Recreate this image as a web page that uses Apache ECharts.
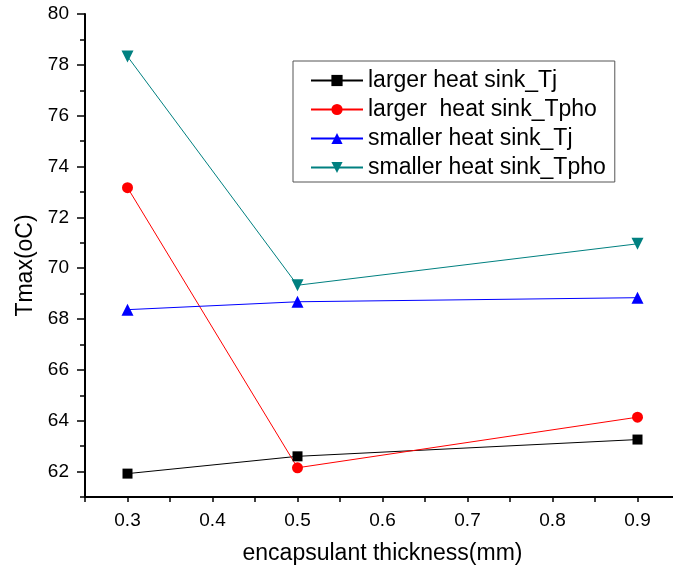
<!DOCTYPE html>
<html><head><meta charset="utf-8">
<script src="https://cdn.jsdelivr.net/npm/echarts@6/dist/echarts.min.js"></script>
<style>html,body{margin:0;padding:0;background:#fff}#c{width:673px;height:575px}</style>
</head><body><div id="c"></div>
<script>
const thickness = [0.3, 0.5, 0.9];
const largerTj = [61.92, 62.6, 63.26];
const largerTpho = [73.17, 62.15, 64.14];
const smallerTj = [68.37, 68.68, 68.84];
const smallerTpho = [78.33, 69.33, 70.96];
const seriesNames = ['larger heat sink_Tj', 'larger  heat sink_Tpho', 'smaller heat sink_Tj', 'smaller heat sink_Tpho'];

const FONT = "'Liberation Sans', Arial, sans-serif";
const pairs = (ys) => thickness.map((x, i) => [x, ys[i]]);
const chart = echarts.init(document.getElementById('c'), null, {renderer: 'canvas'});
const mk = (name, data, color, symbol, size, rot) => ({
  name, type: 'line', data: pairs(data), xAxisIndex: 0, yAxisIndex: 0,
  symbol, symbolSize: size, symbolRotate: rot || 0,
  lineStyle: {color, width: 1}, itemStyle: {color}, animation: false
});
chart.setOption({
  animation: false,
  backgroundColor: '#fff',
  grid: [
    {left: 85, top: 14, width: 595, height: 483, containLabel: false, outerBoundsMode: 'none'},
    {left: 85, top: 14, width: 595, height: 457.6, containLabel: false, outerBoundsMode: 'none'}
  ],
  legend: {
    orient: 'vertical', left: 293, top: 61,
    padding: [8, 9, 3, 17],
    borderColor: '#555', borderWidth: 1,
    itemWidth: 52, itemHeight: 14, itemGap: 6,
    textStyle: {fontFamily: FONT, fontSize: 23, color: '#000', lineHeight: 22},
    data: seriesNames
  },
  xAxis: [{
    gridIndex: 0, type: 'value', min: 0.25, max: 0.95, interval: 0.05,
    name: 'encapsulant thickness(mm)', nameLocation: 'middle', nameGap: 45,
    nameTextStyle: {fontFamily: FONT, fontSize: 23, color: '#000'},
    axisLine: {lineStyle: {color: '#000', width: 2}},
    axisTick: {inside: false, length: 5, lineStyle: {color: '#000', width: 1.5}},
    axisLabel: {margin: 14, fontFamily: FONT, fontSize: 19, color: '#000',
      formatter: v => (Math.round(v * 100) % 10 === 0 ? v.toFixed(1) : '')},
    splitLine: {show: false}
  }, {
    gridIndex: 1, type: 'value', min: 0.25, max: 0.95, show: false
  }],
  yAxis: [{
    gridIndex: 0, type: 'value', min: 61, max: 80, interval: 1,
    name: 'Tmax(oC)', nameLocation: 'middle', nameGap: 48,
    nameTextStyle: {fontFamily: FONT, fontSize: 23, color: '#000', padding: [0, 20, 0, 0]},
    axisLine: {lineStyle: {color: '#000', width: 2}},
    axisTick: {inside: false, length: 5, lineStyle: {color: '#000', width: 1.5}},
    axisLabel: {show: false},
    splitLine: {show: false}
  }, {
    gridIndex: 1, type: 'value', min: 62, max: 80, interval: 2,
    axisLine: {show: false},
    axisTick: {inside: false, length: 8, lineStyle: {color: '#000', width: 1.5}},
    axisLabel: {margin: 16, fontFamily: FONT, fontSize: 19, color: '#000'},
    splitLine: {show: false}
  }],
  series: [
    mk(seriesNames[0], largerTj, '#000000', 'rect', 10),
    mk(seriesNames[1], largerTpho, '#ff0000', 'circle', 11),
    mk(seriesNames[2], smallerTj, '#0000ff', 'triangle', 12),
    mk(seriesNames[3], smallerTpho, '#008080', 'triangle', 12, 180)
  ]
});
</script></body></html>
